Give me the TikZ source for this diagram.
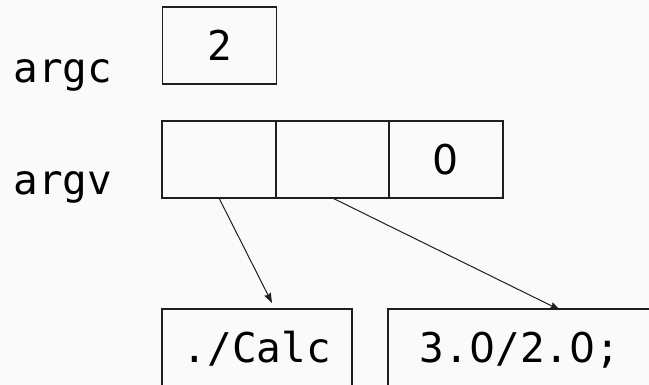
\documentclass[tikz,border=0pt]{standalone}
\usepackage{fontspec}
\newfontfamily\monofam{DejaVu Sans Mono}
\newfontfamily\zerofam{DejaVu Sans}
\newcommand\plainzero{{\zerofam 0}}
\usetikzlibrary{arrows.meta}
\definecolor{bg}{RGB}{250,250,250}
\definecolor{ln}{RGB}{30,30,30}
\begin{document}
\begin{tikzpicture}[x=0.5pt,y=-0.5pt,
  every node/.style={font=\monofam\fontsize{20.5}{24}\selectfont, text=black},
  cell/.style={draw=ln, line width=0.55pt, minimum width=57pt, minimum height=38.5pt,
    inner sep=0pt, outer sep=0pt, text height=15pt, text depth=0pt},
  strbox/.style={draw=ln, line width=0.55pt, minimum height=38.5pt,
    inner sep=0pt, outer sep=0pt, text height=15pt, text depth=0pt},
  lbl/.style={anchor=base west, inner sep=0pt},
  ptr/.style={draw=ln, line width=0.5pt, -{Stealth[length=5pt,width=3.6pt,inset=0.6pt]}}]
\fill[bg] (0,0) rectangle (649,385);
\useasboundingbox (0,0) rectangle (649,385);
% labels
\node[lbl] (argc) at (13,83) {argc};
\node[lbl] (argv) at (13,195) {argv};
% argc box
\node[cell] (c0) at (219.5,45.5) {2};
% argv array
\node[cell] (v1) at (219,159.5) {};
\node[cell] (v2) at (332.5,159.5) {};
\node[cell] (v3) at (446,159.5) {\plainzero};
% strings
\node[strbox, minimum width=95pt] (calc) at (257,347.5) {./Calc};
\node[strbox, minimum width=132pt] (expr) at (520,347.5) {3.\plainzero/2.\plainzero;};
% arrow ends
\coordinate (t1) at (272,303);
\coordinate (t2) at (560,310);
\draw[ptr] (v1.south) -- (t1);
\draw[ptr] (v2.south) -- (t2);
\end{tikzpicture}
\end{document}
